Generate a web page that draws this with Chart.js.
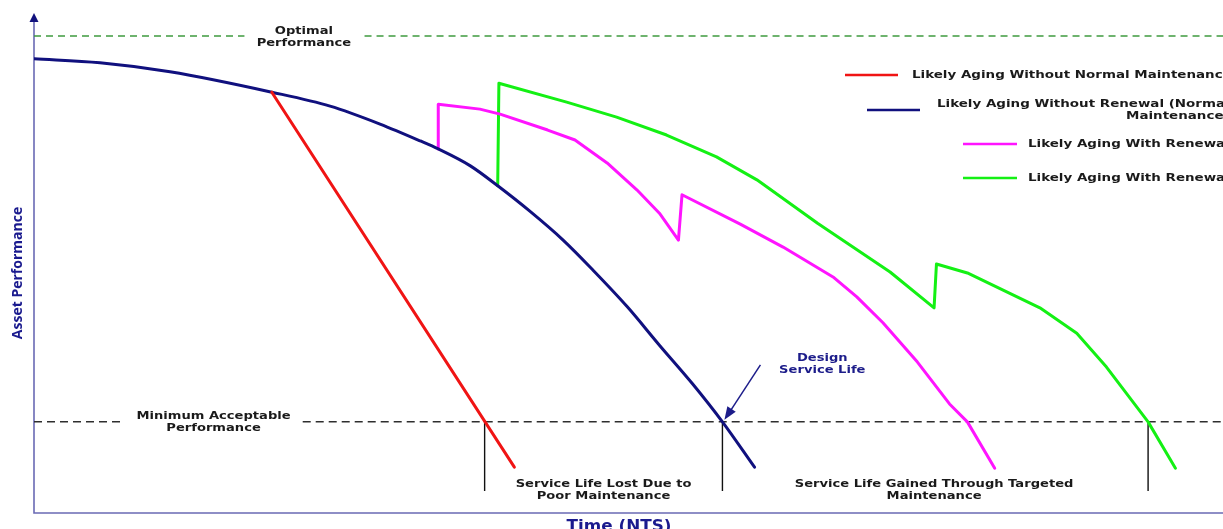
<!DOCTYPE html>
<html>
<head>
<meta charset="utf-8">
<script src="https://cdn.jsdelivr.net/npm/chart.js@4"></script>
<style>
html,body{margin:0;padding:0;background:#fff;overflow:hidden;}
#wrap{width:1223px;height:529px;}
</style>
</head>
<body>
<div id="wrap"><canvas id="c" width="1223" height="529"></canvas></div>
<script>
// ---- Data (time and performance in % of axis range) ----
const seriesLabels = [
  "Likely Aging Without Normal Maintenance",
  "Likely Aging Without Renewal (Normal Maintenance)",
  "Likely Aging With Renewal",
  "Likely Aging With Renewal"
];
const noMaintTime = [20.0, 40.4];
const noMaintPerf = [84.5, 9.2];

const normalTime = [0, 5.55, 11.44, 20.0, 24.9, 29.1, 32.5, 34.0, 36.7, 39.0, 41.7, 44.5, 47.0, 49.9, 52.6, 55.4, 57.9, 60.6];
const normalPerf = [91.2, 90.4, 88.6, 84.5, 81.7, 78.1, 74.7, 73.1, 69.7, 65.7, 60.6, 54.8, 48.8, 41.4, 33.7, 25.9, 18.3, 9.2];

const renewATime = [34.0, 34.0, 37.5, 39.2, 43.2, 45.5, 48.2, 50.7, 52.6, 54.2, 54.5, 59.4, 63.0, 67.2, 69.2, 71.4, 74.3, 77.0, 78.5, 80.8];
const renewAPerf = [73.1, 82.1, 81.1, 80.1, 76.9, 74.9, 70.3, 64.9, 60.2, 54.8, 63.9, 58.0, 53.4, 47.4, 43.4, 38.2, 30.3, 21.9, 18.3, 9.0];

const renewBTime = [39.0, 39.1, 44.8, 49.0, 53.2, 57.4, 60.8, 65.9, 72.0, 75.7, 75.9, 78.5, 84.6, 87.7, 90.2, 93.7, 96.0];
const renewBPerf = [65.7, 86.3, 82.5, 79.5, 75.9, 71.5, 66.9, 58.2, 48.4, 41.2, 50.0, 48.2, 41.2, 36.1, 29.3, 18.3, 9.0];

const optimalPerf = 95.8;
const minimumPerf = 18.3;
const markerTimes = [37.9, 57.9, 93.7];   // life-end markers
const markerBottom = 4.4;

const seriesColors = ["#f01414", "#10107e", "#ff14ff", "#14f014"];

function pts(xs, ys){ return xs.map((x,i)=>({x:x, y:ys[i]})); }

const FONT = "'DejaVu Sans', Verdana, sans-serif";
const SX = 1.19; // horizontal widening to mimic Verdana Bold

function wideText(ctx, txt, x, y, sx){
  ctx.save();
  ctx.translate(x, y);
  ctx.scale(sx, 1);
  ctx.fillText(txt, 0, 0);
  ctx.restore();
}

const decor = {
  id: 'decor',
  beforeDatasetsDraw(chart){
    const ctx = chart.ctx, xs = chart.scales.x, ys = chart.scales.y;
    const X = v => xs.getPixelForValue(v), Y = v => ys.getPixelForValue(v);
    const a = chart.chartArea;
    ctx.save();
    // axes
    ctx.strokeStyle = '#6a6ab4';
    ctx.lineWidth = 1.6;
    ctx.beginPath();
    ctx.moveTo(a.left, a.top + 4); ctx.lineTo(a.left, a.bottom);
    ctx.lineTo(a.right + 5, a.bottom);
    ctx.stroke();
    // arrow head
    ctx.fillStyle = '#12127e';
    ctx.beginPath();
    ctx.moveTo(a.left, a.top - 2);
    ctx.lineTo(a.left - 4.5, a.top + 7);
    ctx.lineTo(a.left + 4.5, a.top + 7);
    ctx.closePath(); ctx.fill();

    // optimal dashed line (with gap for label)
    ctx.lineWidth = 1.5;
    ctx.setLineDash([7,5]);
    ctx.strokeStyle = '#3f9a3f';
    ctx.beginPath();
    ctx.moveTo(a.left, Y(optimalPerf)); ctx.lineTo(X(17.7), Y(optimalPerf));
    ctx.moveTo(X(27.8), Y(optimalPerf)); ctx.lineTo(a.right + 5, Y(optimalPerf));
    ctx.stroke();
    // minimum dashed line
    ctx.strokeStyle = '#2e2e2e';
    ctx.setLineDash([8,5]);
    ctx.beginPath();
    ctx.moveTo(a.left, Y(minimumPerf)); ctx.lineTo(X(7.65), Y(minimumPerf));
    ctx.moveTo(X(22.6), Y(minimumPerf)); ctx.lineTo(a.right + 5, Y(minimumPerf));
    ctx.stroke();
    ctx.setLineDash([]);
    // markers
    ctx.strokeStyle = '#111';
    ctx.lineWidth = 1.4;
    ctx.beginPath();
    markerTimes.forEach(t => {
      ctx.moveTo(X(t), Y(minimumPerf)); ctx.lineTo(X(t), Y(markerBottom));
    });
    ctx.stroke();
    ctx.restore();
  },
  afterDatasetsDraw(chart){
    const ctx = chart.ctx, xs = chart.scales.x, ys = chart.scales.y;
    const X = v => xs.getPixelForValue(v), Y = v => ys.getPixelForValue(v);
    const a = chart.chartArea;
    ctx.save();
    ctx.textAlign = 'center';
    ctx.textBaseline = 'middle';
    ctx.fillStyle = '#1a1a1a';
    ctx.font = "bold 11px " + FONT;
    const yo = Y(optimalPerf);
    wideText(ctx, 'Optimal', X(22.7), yo - 5, SX);
    wideText(ctx, 'Performance', X(22.7), yo + 7, SX);
    const ym = Y(minimumPerf);
    wideText(ctx, 'Minimum Acceptable', X(15.1), ym - 6, SX);
    wideText(ctx, 'Performance', X(15.1), ym + 6, SX);
    const yb = Y(markerBottom);
    wideText(ctx, 'Service Life Lost Due to', X(47.9), yb - 7, SX);
    wideText(ctx, 'Poor Maintenance', X(47.9), yb + 5, SX);
    wideText(ctx, 'Service Life Gained Through Targeted', X(75.7), yb - 7, SX);
    wideText(ctx, 'Maintenance', X(75.7), yb + 5, SX);

    // Design service life
    ctx.fillStyle = '#1c1c8a';
    wideText(ctx, 'Design', X(66.3), Y(minimumPerf) - 64, SX);
    wideText(ctx, 'Service Life', X(66.3), Y(minimumPerf) - 52, SX);
    const x0 = X(57.9) + 38, y0 = Y(minimumPerf) - 57;
    const x1 = X(57.9) + 2, y1 = Y(minimumPerf) - 2;
    ctx.strokeStyle = '#1c1c8a';
    ctx.lineWidth = 1.5;
    ctx.beginPath(); ctx.moveTo(x0, y0); ctx.lineTo(x1 + 4, y1 - 6); ctx.stroke();
    const ang = Math.atan2(y1 - y0, x1 - x0);
    ctx.beginPath();
    ctx.moveTo(x1, y1);
    ctx.lineTo(x1 - 13*Math.cos(ang) + 5*Math.sin(ang), y1 - 13*Math.sin(ang) - 5*Math.cos(ang));
    ctx.lineTo(x1 - 13*Math.cos(ang) - 5*Math.sin(ang), y1 - 13*Math.sin(ang) + 5*Math.cos(ang));
    ctx.closePath();
    ctx.fillStyle = '#1c1c8a'; ctx.fill();

    // Legend (custom, placed like the reference)
    const ds = chart.data.datasets;
    ctx.font = "bold 11.3px " + FONT;
    ctx.fillStyle = '#1a1a1a';
    const leg = [
      {l:845, r:898, y:75, tx:912},
      {l:867, r:920, y:110, tx:937},
      {l:963, r:1017, y:144, tx:1028},
      {l:963, r:1017, y:178, tx:1028}
    ];
    leg.forEach((g, i) => {
      ctx.strokeStyle = ds[i].borderColor;
      ctx.lineWidth = 2.6;
      ctx.beginPath(); ctx.moveTo(g.l, g.y); ctx.lineTo(g.r, g.y); ctx.stroke();
      ctx.fillStyle = '#1a1a1a';
      if (i === 1) {
        const l1 = 'Likely Aging Without Renewal (Normal', l2 = 'Maintenance)';
        const w1 = ctx.measureText(l1).width * SX;
        ctx.textAlign = 'left';
        wideText(ctx, l1, g.tx, g.y - 6, SX);
        ctx.textAlign = 'right';
        wideText(ctx, l2, g.tx + w1, g.y + 6, SX);
      } else {
        ctx.textAlign = 'left';
        wideText(ctx, ds[i].label, g.tx, g.y, SX);
      }
    });

    // axis titles
    ctx.fillStyle = '#1a1a8e';
    ctx.font = "bold 15px " + FONT;
    ctx.textAlign = 'center';
    ctx.textBaseline = 'alphabetic';
    wideText(ctx, 'Time (NTS)', 619, a.bottom + 18, 1.12);
    ctx.translate(18, 273);
    ctx.rotate(-Math.PI/2);
    ctx.font = "bold 14px 'Open Sans', sans-serif";
    ctx.textBaseline = 'middle';
    ctx.fillText('Asset Performance', 0, 0);
    ctx.restore();
  }
};

new Chart(document.getElementById('c'), {
  type: 'line',
  data: {
    datasets: [
      {label: seriesLabels[0], data: pts(noMaintTime, noMaintPerf), borderColor: seriesColors[0], borderWidth: 3, tension: 0},
      {label: seriesLabels[1], data: pts(normalTime, normalPerf), borderColor: seriesColors[1], borderWidth: 3, cubicInterpolationMode: 'monotone'},
      {label: seriesLabels[2], data: pts(renewATime, renewAPerf), borderColor: seriesColors[2], borderWidth: 3, tension: 0},
      {label: seriesLabels[3], data: pts(renewBTime, renewBPerf), borderColor: seriesColors[3], borderWidth: 3, tension: 0}
    ]
  },
  options: {
    responsive: false,
    animation: false,
    devicePixelRatio: 1,
    layout: {padding: {left: 34, right: 0, top: 15, bottom: 16}},
    elements: {point: {radius: 0, hoverRadius: 0}, line: {borderJoinStyle: 'round', borderCapStyle: 'round', fill: false}},
    plugins: {legend: {display: false}, tooltip: {enabled: false}},
    events: [],
    scales: {
      x: {type: 'linear', min: 0, max: 100, display: false},
      y: {type: 'linear', min: 0, max: 100, display: false}
    }
  },
  plugins: [decor]
});
</script>
</body>
</html>
